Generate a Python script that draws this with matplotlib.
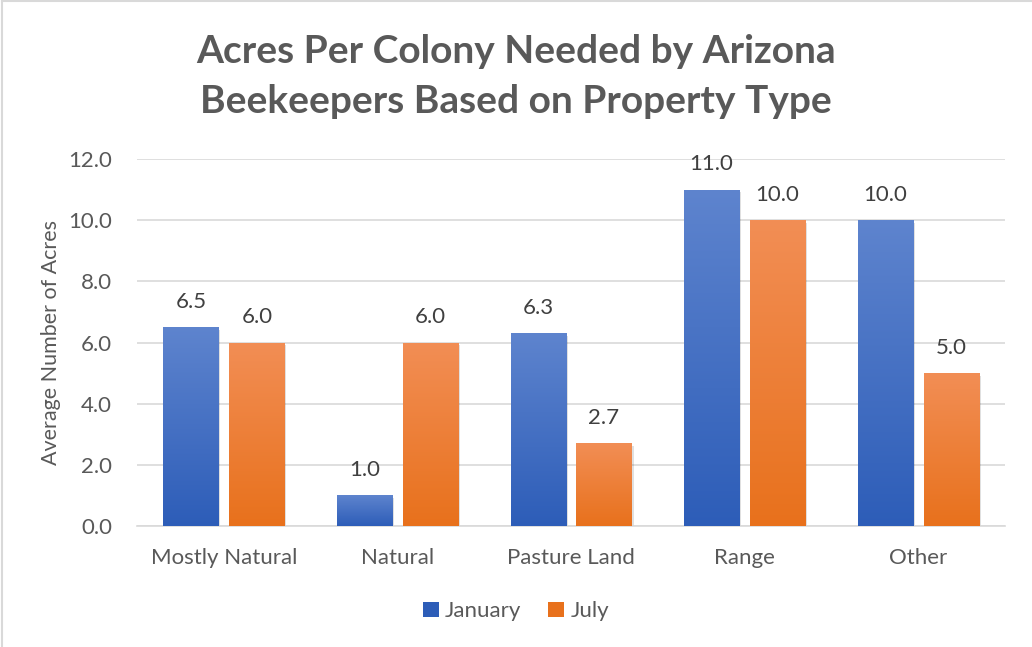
import matplotlib.pyplot as plt
import numpy as np
from matplotlib.colors import LinearSegmentedColormap
from matplotlib.patches import Rectangle, Patch

plt.rcParams['font.family'] = ['Lato', 'DejaVu Sans']

# data
categories = ["Mostly Natural", "Natural", "Pasture Land", "Range", "Other"]
january = [6.5, 1.0, 6.3, 11.0, 10.0]
july = [6.0, 6.0, 2.7, 10.0, 5.0]
series_names = ["January", "July"]

blue_top, blue_bot = "#5E84CE", "#2D5DB8"
orange_top, orange_bot = "#F28E55", "#E8711C"

fig = plt.figure(figsize=(10.32, 6.47), dpi=100)
ax = fig.add_axes([0.1328, 0.187, 0.841, 0.567])

x = np.arange(len(categories))
width = 0.317
offset = 0.19

grad = np.linspace(0, 1, 256).reshape(-1, 1)


def gradient_bars(xs, vals, top, bot, label):
    cmap = LinearSegmentedColormap.from_list("g", [bot, top])
    bars = ax.bar(xs, vals, width, color=top, label=label, zorder=3)
    for b in bars:
        bx, by = b.get_x(), b.get_y()
        bw, bh = b.get_width(), b.get_height()
        # soft shadow
        sh = Rectangle((bx + 0.012, by - 0.08), bw, bh, facecolor="#000000",
                       alpha=0.12, zorder=2.5, edgecolor="none")
        ax.add_patch(sh)
        im = ax.imshow(grad, extent=[bx, bx + bw, by, by + bh], origin="lower",
                       cmap=cmap, aspect="auto", zorder=3.5)
        im.set_clip_path(b)
    for xi, v in zip(xs, vals):
        ax.text(xi, v + 0.5, f"{v:.1f}", ha="center", va="bottom",
                fontsize=16, color="#404040", zorder=5)
    return bars


gradient_bars(x - offset, january, blue_top, blue_bot, series_names[0])
gradient_bars(x + offset, july, orange_top, orange_bot, series_names[1])

ax.set_xlim(-0.5, len(categories) - 0.5)
ax.set_ylim(0, 12)
ax.set_yticks(np.arange(0, 12.1, 2))
ax.set_yticklabels([f"{t:.1f}" for t in np.arange(0, 12.1, 2)])
ax.set_xticks(x)
ax.set_xticklabels(categories)
ax.tick_params(axis="both", length=0, labelsize=16, labelcolor="#595959")
ax.tick_params(axis="x", pad=16)
ax.tick_params(axis="y", pad=18)
ax.grid(axis="y", color="#D9D9D9", linewidth=1.2, zorder=0)
for s in ["top", "right", "left"]:
    ax.spines[s].set_visible(False)
ax.spines["bottom"].set_color("#D9D9D9")
ax.spines["bottom"].set_linewidth(1.2)
ax.set_ylabel("Average Number of Acres", fontsize=15.5, color="#595959", labelpad=5)

fig.text(0.5, 0.882, "Acres Per Colony Needed by Arizona\nBeekeepers Based on Property Type",
         ha="center", va="center", fontsize=28, fontweight="bold", color="#595959",
         linespacing=1.5)

handles = [Patch(facecolor=blue_bot), Patch(facecolor=orange_bot)]
fig.legend(handles, series_names, loc="center", bbox_to_anchor=(0.5, 0.055), ncol=2,
           frameon=False, fontsize=16, labelcolor="#595959", handlelength=0.7,
           handleheight=0.7, columnspacing=1.2, handletextpad=0.3)

# chart border (top and left visible)
fig.add_artist(plt.Line2D([0.002, 0.002], [0, 0.998], color="#D9D9D9", lw=1.5))
fig.add_artist(plt.Line2D([0.002, 1], [0.998, 0.998], color="#D9D9D9", lw=1.5))

fig.savefig("out.png", dpi=100)
